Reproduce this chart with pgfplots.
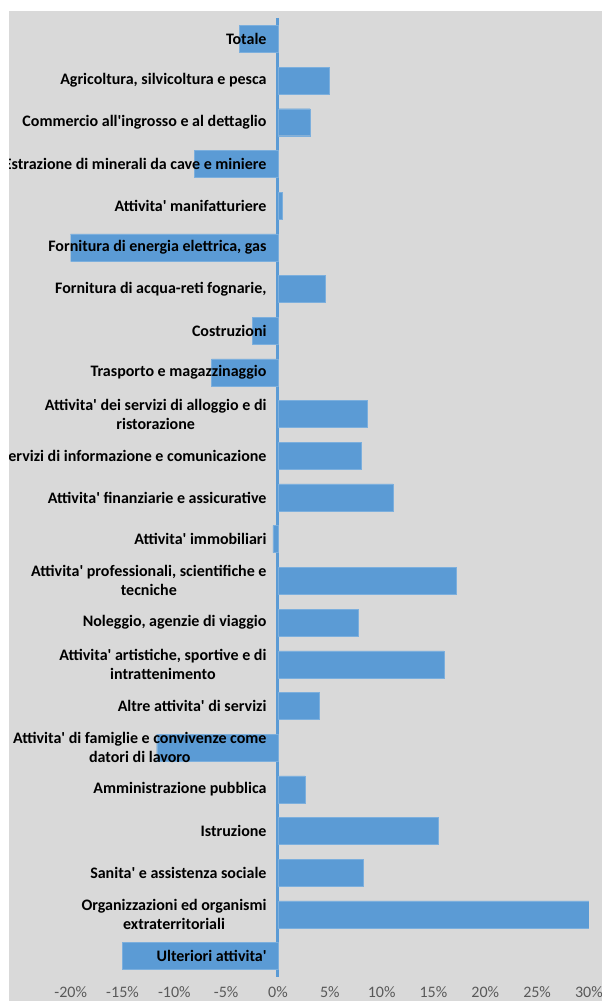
\documentclass[border=0pt]{standalone}
\usepackage{pgfplots}
\pgfplotsset{compat=1.18}
\usepackage{fontspec}
\setmainfont{Carlito}
\definecolor{barblue}{HTML}{5B9BD5}
\definecolor{bggray}{HTML}{D9D9D9}
\definecolor{ticktext}{HTML}{595959}
\newcommand{\ap}{\textquotesingle}
% labels have to sit above the bars, the grid below them
\pgfplotsset{layers/labels over bars/.define layer set={axis background,axis grid,pre main,main,axis ticks,axis lines,axis tick labels,axis descriptions,axis foreground}{/pgfplots/layers/standard}}

\pgfplotstableread{
idx val
0  -3.7
1   4.9
2   3.1
3  -8.1
4   0.4
5 -20.1
6   4.6
7  -2.5
8  -6.4
9   8.6
10  8.0
11 11.1
12 -0.5
13 17.2
14  7.7
15 16.0
16  4.0
17 -11.7
18  2.6
19 15.5
20  8.2
21 30.0
22 -15.0
}\settori

\begin{document}
\begin{tikzpicture}
\fill[white] (0,0) rectangle (602pt,1001pt);
\fill[bggray] (9pt,0) rectangle (602pt,990pt);
\begin{axis}[
  set layers=labels over bars,
  at={(70.7pt,24pt)}, anchor=south west,
  width=518.2pt, height=959pt, scale only axis,
  xbar, bar width=27pt, bar shift=0pt,
  xmin=-20, xmax=30, ymin=-0.5, ymax=22.5, y dir=reverse,
  axis line style={draw=none},
  major tick length=0pt,
  xmajorgrids, grid style={white, line width=1pt},
  xtick={-20,-15,...,30},
  xticklabels={-20\%,-15\%,-10\%,-5\%,0\%,5\%,10\%,15\%,20\%,25\%,30\%},
  xticklabel style={font=\fontsize{16}{19}\selectfont, text=ticktext, yshift=-6pt},
  ytick={0,...,22},
  yticklabels={
    Totale,
    {Agricoltura, silvicoltura e pesca},
    Commercio all\ap ingrosso e al dettaglio,
    Estrazione di minerali da cave e miniere,
    Attivita\ap{} manifatturiere,
    {Fornitura di energia elettrica, gas},
    {Fornitura di acqua-reti fognarie,},
    Costruzioni,
    Trasporto e magazzinaggio,
    Attivita\ap{} dei servizi di alloggio e di\\ristorazione,
    Servizi di informazione e comunicazione,
    Attivita\ap{} finanziarie e assicurative,
    Attivita\ap{} immobiliari,
    {Attivita\ap{} professionali, scientifiche e\\tecniche},
    {Noleggio, agenzie di viaggio},
    {Attivita\ap{} artistiche, sportive e di\\intrattenimento},
    Altre attivita\ap{} di servizi,
    Attivita\ap{} di famiglie e convivenze come\\datori di lavoro,
    Amministrazione pubblica,
    Istruzione,
    Sanita\ap{} e assistenza sociale,
    Organizzazioni ed organismi\\extraterritoriali,
    Ulteriori attivita\ap
  },
  yticklabel style={font=\bfseries\fontsize{16}{19}\selectfont, align=center,
    anchor=east, inner sep=0pt, xshift=196pt, text=black},
]
\draw[barblue, line width=3pt] (axis cs:0,-0.5) -- (axis cs:0,22.5);
\addplot[fill=barblue, draw=barblue!80!white] table[x=val, y=idx] {\settori};
% white page margin left of the chart area hides the cut-off label text
\begin{pgfonlayer}{axis foreground}
\fill[white] (rel axis cs:-0.6,-0.1) rectangle (rel axis cs:-0.11907,1.1);
\end{pgfonlayer}
\end{axis}
\pgfresetboundingbox
\path[use as bounding box] (0,0) rectangle (602pt,1001pt);
\end{tikzpicture}
\end{document}
